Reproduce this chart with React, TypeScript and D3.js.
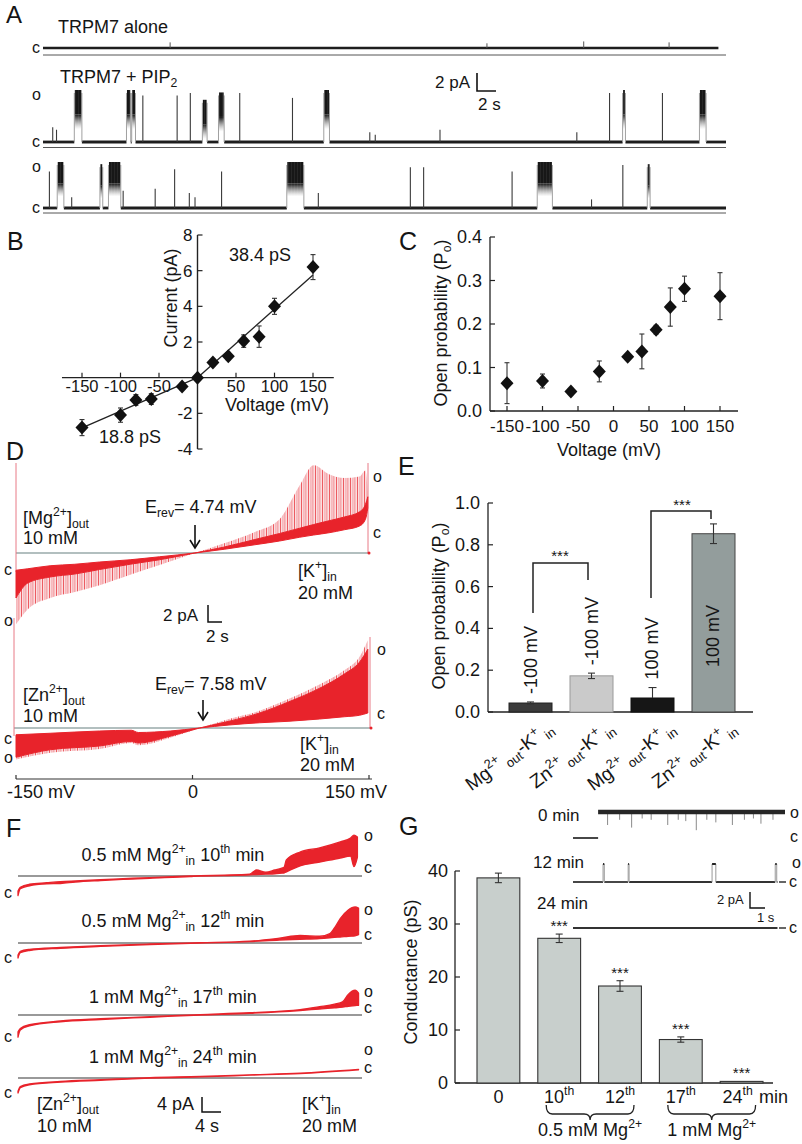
import React from 'react';
import * as d3 from 'd3';

const FONT = "'Liberation Sans', Arial, Helvetica, sans-serif";
const INK = '#151515';
const RED = '#e8232b';

// ================= DATA =================
// Panel A: single-channel bursts [start s, end s, fraction of unitary amplitude]
const aDuration = 72;
const aAloneEnd = 71.2;
const aAloneBlips: [number, number][] = [[13.4, 0.12], [46.8, 0.1], [57.0, 0.14], [66.0, 0.12]];
const aPipRow1: [number, number, number][] = [
  [1.0, 1.05, 0.3], [1.4, 1.45, 0.25], [3.3, 4.1, 1], [8.8, 9.25, 1], [9.35, 9.75, 1], [10.4, 10.65, 0.95],
  [14.1, 14.18, 0.95], [15.5, 15.56, 1], [16.8, 17.3, 0.8], [18.5, 19.1, 0.95], [20.7, 20.78, 1],
  [26.2, 26.4, 0.9], [29.6, 30.2, 1], [34.4, 34.5, 0.2], [35.0, 35.05, 0.15], [41.8, 41.9, 0.25],
  [56.2, 56.35, 0.2], [59.65, 59.8, 1], [61.1, 61.4, 1], [65.2, 65.4, 1], [69.2, 69.9, 1],
];
const aPipRow2: [number, number, number][] = [
  [0.65, 0.7, 0.85], [1.5, 2.2, 1], [3.0, 3.05, 0.25], [6.0, 6.3, 0.95], [6.9, 8.2, 1], [8.4, 8.5, 0.4],
  [11.8, 11.85, 0.45], [13.85, 13.9, 0.9], [15.4, 15.45, 0.35], [16.0, 16.05, 0.25], [18.8, 18.85, 0.85],
  [25.7, 27.5, 1], [29.0, 29.05, 0.35], [38.7, 38.75, 0.95], [40.0, 40.25, 0.95], [49.4, 49.5, 0.85],
  [52.1, 53.7, 1], [57.8, 57.85, 0.2], [61.1, 61.15, 1], [63.7, 64.0, 0.95],
];

// Panel B: I-V relation
const ivVoltage = [-150, -100, -80, -60, -20, 0, 20, 40, 60, 80, 100, 150];
const ivCurrent = [-2.8, -2.1, -1.25, -1.2, -0.5, 0, 0.85, 1.2, 2.05, 2.3, 4.0, 6.2];
const ivError = [0.45, 0.4, 0.3, 0.3, 0, 0, 0.1, 0.2, 0.35, 0.6, 0.45, 0.7];
const ivSlopeNeg = 18.8; // pS
const ivSlopePos = 38.4; // pS
const bXTicks = [-150, -100, -50, 50, 100, 150];
const bYTicks = [-4, -2, 2, 4, 6, 8];

// Panel C: open probability vs voltage
const poVoltage = [-150, -100, -60, -20, 20, 40, 60, 80, 100, 150];
const poValue = [0.064, 0.069, 0.045, 0.091, 0.125, 0.137, 0.187, 0.239, 0.281, 0.264];
const poError = [0.047, 0.016, 0.004, 0.024, 0.004, 0.04, 0.01, 0.044, 0.029, 0.054];
const cXTicks = [-150, -100, -50, 0, 50, 100, 150];
const cYTicks = [0, 0.1, 0.2, 0.3, 0.4];

// Panel D: ramp current envelopes [mV, closed pA, dense edge pA, peak pA]
const dMgTrace: [number, number, number, number][] = [
  [-150, -2.3, -6.0, -9.5], [-140, -2.1, -4.0, -7.5], [-121, -1.7, -3.2, -6.0], [-100, -1.5, -2.8, -5.2],
  [-79, -1.2, -2.2, -4.3], [-53, -0.9, -1.5, -2.9], [-28, -0.5, -0.9, -1.6], [2, 0, 0, 0],
  [27, 0.5, 0.8, 1.3], [53, 1.1, 1.8, 2.8], [74, 1.6, 2.6, 4.5], [91, 2.1, 3.3, 9.0],
  [103, 2.4, 3.8, 11.7], [116, 2.7, 4.3, 10.5], [129, 3.1, 4.8, 10.0], [142, 3.6, 5.5, 10.2],
  [147, 4.5, 6.5, 11.0], [149, 6.0, 7.5, 8.0],
];
const dZnTrace: [number, number, number, number][] = [
  [-150, -0.9, -3.9, -4.2], [-121, -0.7, -2.9, -3.3], [-79, -0.4, -2.4, -2.8], [-52, -0.3, -1.8, -2.0],
  [-46, -0.6, -2.0, -2.3], [-19, -0.4, -1.1, -1.3], [6, 0, 0, 0], [31, 0.4, 0.9, 1.2],
  [57, 0.7, 2.0, 2.3], [82, 0.9, 3.5, 3.9], [108, 1.2, 5.3, 5.8], [129, 1.5, 7.2, 7.7],
  [142, 1.7, 8.8, 9.5], [149, 2.0, 10.5, 11.7],
];
const dXTicks = [-150, 0, 150];

// Panel E: open probability bars
const eConditions = ['Mg^{2+}_{ out}-K^{+}_{ in}', 'Zn^{2+}_{ out}-K^{+}_{ in}', 'Mg^{2+}_{ out}-K^{+}_{ in}', 'Zn^{2+}_{ out}-K^{+}_{ in}'];
const eVoltLabels = ['-100 mV', '-100 mV', '100 mV', '100 mV'];
const ePo = [0.043, 0.173, 0.067, 0.853];
const eErr = [0.005, 0.013, 0.05, 0.047];
const eColors = ['#3b3b3b', '#cacaca', '#161616', '#939d9c'];
const eStrokes = ['#222', '#9a9a9a', '#111', '#444'];
const eYTicks = [0, 0.2, 0.4, 0.6, 0.8, 1.0];

// Panel F: ramp traces with internal Mg [mV, low pA, high pA]
const fTraces: { label: string; pts: [number, number, number][] }[] = [
  { label: '0.5 mM Mg^{2+}_{in} 10^{th} min', pts: [
    [-150, -5.2, -4.0], [-148, -3.4, -3.0], [-140, -2.6, -2.2], [-125, -2.1, -1.8], [-113, -2.0, -1.5],
    [-100, -1.6, -1.3], [-78, -1.2, -1.0], [-50, -0.8, -0.6], [-35, -0.6, -0.45], [0, -0.15, 0],
    [9, 0, 0.1], [30, 0.1, 0.25], [52, 0.3, 0.5], [58, 0.4, 1.6], [66, 0.5, 1.0], [74, 0.6, 1.6],
    [80, 0.75, 2.1], [82, 0.8, 2.3], [84, 1.1, 4.3], [96, 2.7, 6.4], [113, 3.7, 7.5], [131, 4.8, 9.1],
    [140, 5.3, 10.1], [143, 2.5, 10.9], [146, 5.0, 10.4]] },
  { label: '0.5 mM Mg^{2+}_{in} 12^{th} min', pts: [
    [-150, -4.0, -3.2], [-148, -2.6, -2.2], [-140, -2.0, -1.7], [-113, -1.4, -1.2], [-78, -0.9, -0.7],
    [-35, -0.4, -0.25], [9, 0, 0.1], [52, 0.35, 0.5], [78, 0.8, 1.3], [96, 1.0, 2.0], [113, 1.2, 1.8],
    [122, 1.4, 2.5], [126, 1.5, 4.0], [131, 1.6, 6.5], [138, 1.8, 8.8], [144, 1.9, 9.6], [147, 2.2, 9.3]] },
  { label: '1 mM Mg^{2+}_{in} 17^{th} min', pts: [
    [-150, -5.9, -4.5], [-148, -4.0, -3.6], [-140, -2.9, -2.6], [-113, -1.8, -1.6], [-78, -1.2, -1.0],
    [-35, -0.6, -0.45], [9, 0, 0.1], [52, 0.45, 0.6], [96, 1.2, 1.4], [113, 1.6, 2.2], [126, 1.9, 2.9],
    [133, 2.1, 3.5], [138, 2.3, 5.5], [144, 2.5, 6.6], [147, 2.6, 5.8]] },
  { label: '1 mM Mg^{2+}_{in} 24^{th} min', pts: [
    [-150, -4.0, -3.5], [-148, -2.6, -2.3], [-140, -1.8, -1.6], [-113, -1.1, -0.9], [-78, -0.6, -0.45],
    [-35, -0.05, 0.1], [9, 0.3, 0.4], [52, 0.75, 0.85], [96, 1.2, 1.3], [147, 2.2, 2.3]] },
];

// Panel G: conductance bars and inset records
const gCategories = ['0', '10^{th}', '12^{th}', '17^{th}', '24^{th}'];
const gConductance = [38.7, 27.3, 18.3, 8.2, 0.3];
const gErr = [0.9, 0.8, 1.0, 0.5, 0];
const gSignif = ['', '***', '***', '***', '***'];
const gYTicks = [0, 10, 20, 30, 40];
const gGroups = [{ label: '0.5 mM Mg^{2+}', from: 1, to: 2 }, { label: '1 mM Mg^{2+}', from: 3, to: 4 }];
const gInsetDuration = 14.1; // s
const g0OpenFrom = 1.67;
const g0Closures: [number, number][] = [[2.3, 0.5], [3.1, 0.3], [3.9, 0.6], [4.6, 0.25], [5.2, 0.3], [6.3, 0.5], [7.0, 0.3], [7.5, 0.35], [8.2, 0.7], [8.9, 0.3], [9.5, 0.4], [10.6, 0.5], [11.4, 0.3], [12.0, 0.25], [12.5, 0.45], [13.3, 0.3]];
const g12Openings: [number, number][] = [[2.0, 2.08], [3.67, 3.73], [9.25, 9.5], [13.45, 13.55]];

// ================= HELPERS =================
type Seg = { t: string; k?: 'sup' | 'sub' };
function parseRich(str: string): Seg[] {
  const out: Seg[] = [];
  const re = /(\^|_)\{([^}]*)\}/g;
  let last = 0;
  let m: RegExpExecArray | null;
  while ((m = re.exec(str))) {
    if (m.index > last) out.push({ t: str.slice(last, m.index) });
    out.push({ t: m[2], k: m[1] === '^' ? 'sup' : 'sub' });
    last = re.lastIndex;
  }
  if (last < str.length) out.push({ t: str.slice(last) });
  return out;
}

function RText({ x = 0, y = 0, str, size = 18, anchor = 'start', transform, fill = INK }: any) {
  const segs = parseRich(str);
  let off = 0;
  return (
    <text x={x} y={y} textAnchor={anchor} transform={transform} fill={fill} fontSize={size} fontFamily={FONT} style={{ whiteSpace: 'pre' }}>
      {segs.map((s, i) => {
        let target = 0;
        let fs = size;
        if (s.k === 'sup') { target = -size * 0.42; fs = size * 0.68; }
        else if (s.k === 'sub') { target = size * 0.2; fs = size * 0.68; }
        const dy = target - off;
        off = target;
        return <tspan key={i} dy={dy} fontSize={fs}>{s.t}</tspan>;
      })}
    </text>
  );
}

function T({ x, y, children, size = 18, anchor = 'start', transform, fill = INK }: any) {
  return <text x={x} y={y} fontSize={size} textAnchor={anchor} transform={transform} fill={fill} fontFamily={FONT}>{children}</text>;
}

const DIAMOND = 'M0,-7L6.5,0L0,7L-6.5,0Z';

function ErrBar({ x, y1, y2, cap = 6, color = '#333' }: any) {
  return (
    <g stroke={color} strokeWidth={1.1}>
      <line x1={x} x2={x} y1={y1} y2={y2} />
      <line x1={x - cap / 2} x2={x + cap / 2} y1={y1} y2={y1} />
      <line x1={x - cap / 2} x2={x + cap / 2} y1={y2} y2={y2} />
    </g>
  );
}

// ================= PANEL A =================
const xA = d3.scaleLinear().domain([0, aDuration]).range([43, 726]);

function ChannelRow({ bursts, yC, yO, tEnd }: { bursts: [number, number, number][]; yC: number; yO: number; tEnd: number }) {
  const wide = bursts.filter(b => xA(b[1]) - xA(b[0]) >= 2.5).sort((a, b) => a[0] - b[0]);
  const segs: [number, number][] = [];
  let t = 0;
  wide.forEach(b => { segs.push([t, b[0]]); t = b[1]; });
  segs.push([t, tEnd]);
  const span = yC - yO;
  return (
    <g>
      {segs.map(([s, e], i) => (
        <line key={'s' + i} x1={xA(s)} x2={xA(e)} y1={yC} y2={yC} stroke="#1e1e1e" strokeWidth={2.8} />
      ))}
      {bursts.map(([t0, t1, amp], i) => {
        const x0 = xA(t0), x1 = xA(t1);
        const top = yC - amp * span;
        if (x1 - x0 < 2.5) {
          const xm = (x0 + x1) / 2;
          return <line key={'b' + i} x1={xm} x2={xm} y1={yC} y2={top} stroke="#3a3a3a" strokeWidth={1.1} />;
        }
        const dark = span * 0.5;
        return (
          <g key={'b' + i}>
            <line x1={x0} x2={x0} y1={yC} y2={top} stroke="#a0a0a0" strokeWidth={1} />
            <line x1={x1} x2={x1} y1={yC} y2={top} stroke="#a0a0a0" strokeWidth={1} />
            <rect x={x0 + 0.5} y={top - 3} width={x1 - x0 - 1} height={dark} fill="#171717" />
            <rect x={x0 + 0.5} y={top - 3 + dark} width={x1 - x0 - 1} height={span * 0.3} fill="url(#burstGrad)" />
            <rect x={x0} y={top - 3} width={x1 - x0} height={dark + span * 0.3} fill="url(#flicker)" />
          </g>
        );
      })}
    </g>
  );
}

function PanelA() {
  return (
    <g>
      <T x={6} y={23} size={24}>A</T>
      <T x={58} y={33} size={18}>TRPM7 alone</T>
      <T x={32} y={53} size={16}>c</T>
      <line x1={xA(0)} x2={xA(aAloneEnd)} y1={48} y2={48} stroke="#1e1e1e" strokeWidth={2.6} />
      {aAloneBlips.map(([t, a], i) => (
        <line key={i} x1={xA(t)} x2={xA(t)} y1={48} y2={48 - a * 47} stroke="#555" strokeWidth={1} />
      ))}
      <line x1={43} x2={726} y1={55} y2={55} stroke="#555" strokeWidth={1} />

      <RText x={60} y={83} size={18} str="TRPM7 + PIP_{2}" />
      <T x={32} y={100} size={16}>o</T>
      <T x={32} y={147} size={16}>c</T>
      <ChannelRow bursts={aPipRow1} yC={142} yO={93} tEnd={aDuration} />
      <line x1={43} x2={726} y1={147.5} y2={147.5} stroke="#555" strokeWidth={1} />

      <T x={32} y={172} size={16}>o</T>
      <T x={32} y={213} size={16}>c</T>
      <ChannelRow bursts={aPipRow2} yC={208} yO={165} tEnd={aDuration} />
      <line x1={43} x2={726} y1={213} y2={213} stroke="#555" strokeWidth={1} />

      <T x={435} y={88} size={17}>2 pA</T>
      <path d="M477,73 V91 H496" fill="none" stroke="#111" strokeWidth={1.6} />
      <T x={478} y={110} size={17}>2 s</T>
    </g>
  );
}

// ================= PANEL B =================
function PanelB() {
  const x = d3.scaleLinear().domain([-150, 150]).range([82, 313]);
  const y = d3.scaleLinear().domain([-4, 8]).range([449, 235]);
  const x0 = x(0), y0 = y(0);
  const line = d3.line();
  const fitNeg = line([[x(-150), y((-150 * ivSlopeNeg) / 1000)], [x0, y0]]) as string;
  const fitPos = line([[x0, y0], [x(150), y((150 * ivSlopePos) / 1000)]]) as string;
  return (
    <g>
      <T x={7} y={250} size={25}>B</T>
      <line x1={x(-176)} x2={x(177)} y1={y0} y2={y0} stroke="#222" strokeWidth={1.4} />
      <line x1={x0} x2={x0} y1={y(-4)} y2={y(8)} stroke="#222" strokeWidth={1.4} />
      {bXTicks.map(v => (
        <g key={v}>
          <line x1={x(v)} x2={x(v)} y1={y0} y2={y0 - 5} stroke="#222" strokeWidth={1.2} />
          <T x={x(v)} y={y0 + 14} size={16.5} anchor="middle">{v}</T>
        </g>
      ))}
      {bYTicks.map(v => (
        <g key={v}>
          <line x1={x0} x2={x0 + 5} y1={y(v)} y2={y(v)} stroke="#222" strokeWidth={1.2} />
          <T x={x0 - 5} y={y(v) + 6} size={17} anchor="end">{v}</T>
        </g>
      ))}
      <path d={fitNeg} stroke="#222" strokeWidth={1.3} fill="none" />
      <path d={fitPos} stroke="#222" strokeWidth={1.3} fill="none" />
      {ivVoltage.map((v, i) => (
        <g key={v}>
          {ivError[i] > 0 && <ErrBar x={x(v)} y1={y(ivCurrent[i] + ivError[i])} y2={y(ivCurrent[i] - ivError[i])} cap={5} />}
          <path d={DIAMOND} transform={`translate(${x(v)},${y(ivCurrent[i])})`} fill="#111" />
        </g>
      ))}
      <T x={0} y={0} size={18} anchor="middle" transform={`translate(177,298) rotate(-90)`}>Current (pA)</T>
      <T x={277} y={411} size={18} anchor="middle">Voltage (mV)</T>
      <T x={260} y={261} size={18} anchor="middle">{`${ivSlopePos} pS`}</T>
      <T x={130} y={443} size={18} anchor="middle">{`${ivSlopeNeg} pS`}</T>
    </g>
  );
}

// ================= PANEL C =================
function PanelC() {
  const x = d3.scaleLinear().domain([-150, 150]).range([507, 720]);
  const y = d3.scaleLinear().domain([0, 0.4]).range([411, 237]);
  return (
    <g>
      <T x={399} y={250} size={25}>C</T>
      <line x1={490} x2={738} y1={411} y2={411} stroke="#222" strokeWidth={1.3} />
      <line x1={490} x2={490} y1={411} y2={237} stroke="#222" strokeWidth={1.3} />
      {cXTicks.map(v => (
        <g key={v}>
          <line x1={x(v)} x2={x(v)} y1={411} y2={406} stroke="#222" strokeWidth={1.2} />
          <T x={x(v)} y={432} size={17} anchor="middle">{v}</T>
        </g>
      ))}
      {cYTicks.map(v => (
        <g key={v}>
          <line x1={490} x2={495} y1={y(v)} y2={y(v)} stroke="#222" strokeWidth={1.2} />
          <T x={482} y={y(v) + 6} size={18} anchor="end">{d3.format('.1f')(v)}</T>
        </g>
      ))}
      {poVoltage.map((v, i) => (
        <g key={v}>
          {poError[i] > 0.006 && <ErrBar x={x(v)} y1={y(poValue[i] + poError[i])} y2={y(poValue[i] - poError[i])} cap={5} />}
          <path d={DIAMOND} transform={`translate(${x(v)},${y(poValue[i])})`} fill="#111" />
        </g>
      ))}
      <RText x={0} y={0} size={18} anchor="middle" transform="translate(447,323) rotate(-90)" str="Open probability (P_{o})" />
      <T x={609} y={456} size={18} anchor="middle">Voltage (mV)</T>
    </g>
  );
}

// ================= PANEL D =================
const xD = d3.scaleLinear().domain([-150, 150]).range([16, 369]);
const kD = 7.5; // px per pA

function RampTrace({ data, base }: { data: [number, number, number, number][]; base: number }) {
  const core = d3.area<[number, number, number, number]>()
    .x(d => xD(d[0])).y0(d => base - d[1] * kD).y1(d => base - d[2] * kD).curve(d3.curveMonotoneX)(data) as string;
  const spikes = d3.area<[number, number, number, number]>()
    .x(d => xD(d[0])).y0(d => base - d[2] * kD).y1(d => base - d[3] * kD).curve(d3.curveMonotoneX)(data) as string;
  return (
    <g>
      <path d={spikes} fill="#f4a0a6" opacity={0.35} />
      <path d={spikes} fill="url(#spikeHatch)" />
      <path d={core} fill={RED} stroke={RED} strokeWidth={1} />
    </g>
  );
}

function Arrow({ x, y1, y2 }: any) {
  return (
    <g stroke="#111" strokeWidth={1.6} fill="none">
      <line x1={x} x2={x} y1={y1} y2={y2} />
      <path d={`M${x - 5},${y2 - 8} L${x},${y2} L${x + 5},${y2 - 8}`} />
    </g>
  );
}

function PanelD() {
  const b1 = 553, b2 = 728;
  return (
    <g>
      <T x={6} y={460} size={25}>D</T>
      {/* top: Mg */}
      <line x1={16} x2={370} y1={b1} y2={b1} stroke="#9aa" strokeWidth={1.3} />
      <line x1={16} x2={16} y1={463} y2={572} stroke="#e87a86" strokeWidth={1} />
      <line x1={368} x2={368} y1={463} y2={b1} stroke="#e87a86" strokeWidth={1} />
      <RampTrace data={dMgTrace} base={b1} />
      <circle cx={369} cy={b1} r={1.5} fill={RED} />
      <RText x={23} y={524} size={18} str="[Mg^{2+}]_{out}" />
      <T x={23} y={544} size={18}>10 mM</T>
      <RText x={145} y={513} size={18} str="E_{rev}= 4.74 mV" />
      <Arrow x={195} y1={525} y2={548} />
      <RText x={298} y={577} size={18} str="[K^{+}]_{in}" />
      <T x={298} y={599} size={18}>20 mM</T>
      <T x={4} y={575} size={16}>c</T>
      <T x={4} y={626} size={16}>o</T>
      <T x={373} y={482} size={16}>o</T>
      <T x={373} y={538} size={16}>c</T>

      <T x={163} y={621} size={17}>2 pA</T>
      <path d="M208,605 V622 H222" fill="none" stroke="#111" strokeWidth={1.5} />
      <T x={206} y={642} size={17}>2 s</T>

      {/* bottom: Zn */}
      <line x1={14} x2={372} y1={b2} y2={b2} stroke="#9aa" strokeWidth={1.3} />
      <line x1={14} x2={14} y1={618} y2={736} stroke="#e87a86" strokeWidth={1} />
      <line x1={370} x2={370} y1={637} y2={b2} stroke="#e87a86" strokeWidth={1} />
      <RampTrace data={dZnTrace} base={b2} />
      <circle cx={371} cy={b2} r={1.5} fill={RED} />
      <RText x={23} y={701} size={18} str="[Zn^{2+}]_{out}" />
      <T x={23} y={722} size={18}>10 mM</T>
      <RText x={155} y={690} size={18} str="E_{rev}= 7.58 mV" />
      <Arrow x={203} y1={700} y2={720} />
      <RText x={300} y={750} size={18} str="[K^{+}]_{in}" />
      <T x={300} y={771} size={18}>20 mM</T>
      <T x={4} y={744} size={16}>c</T>
      <T x={4} y={763} size={16}>o</T>
      <T x={377} y={655} size={16}>o</T>
      <T x={377} y={719} size={16}>c</T>

      {/* voltage axis */}
      <line x1={xD(-150)} x2={xD(150) + 3} y1={779} y2={779} stroke="#333" strokeWidth={1.2} />
      {dXTicks.map(v => (
        <line key={v} x1={xD(v)} x2={xD(v)} y1={779} y2={775} stroke="#333" strokeWidth={1.2} />
      ))}
      <T x={7} y={798} size={18}>-150 mV</T>
      <T x={193} y={798} size={18} anchor="middle">0</T>
      <T x={387} y={798} size={18} anchor="end">150 mV</T>
    </g>
  );
}

// ================= PANEL E =================
function PanelE() {
  const x = d3.scaleBand<number>().domain([0, 1, 2, 3]).range([509, 735]).paddingInner(0.295).paddingOuter(0);
  const y = d3.scaleLinear().domain([0, 1]).range([712, 503]);
  const bw = x.bandwidth();
  return (
    <g>
      <T x={398} y={475} size={25}>E</T>
      <line x1={488} x2={753} y1={712} y2={712} stroke="#222" strokeWidth={1.3} />
      <line x1={488} x2={488} y1={712} y2={503} stroke="#222" strokeWidth={1.3} />
      {eYTicks.map(v => (
        <g key={v}>
          <line x1={488} x2={493} y1={y(v)} y2={y(v)} stroke="#222" strokeWidth={1.2} />
          <T x={480} y={y(v) + 6} size={18} anchor="end">{d3.format('.1f')(v)}</T>
        </g>
      ))}
      {ePo.map((v, i) => {
        const bx = x(i) as number;
        const cx = bx + bw / 2;
        const errTop = y(v + eErr[i]);
        const inside = v > 0.5;
        const ly = inside ? y(0) - 45 : errTop - 8;
        return (
          <g key={i}>
            <rect x={bx} y={y(v)} width={bw} height={y(0) - y(v)} fill={eColors[i]} stroke={eStrokes[i]} strokeWidth={1} />
            {i === 2
              ? <g stroke="#333" strokeWidth={1.1}><line x1={cx} x2={cx} y1={y(v)} y2={errTop} /><line x1={cx - 4} x2={cx + 4} y1={errTop} y2={errTop} /></g>
              : <ErrBar x={cx} y1={errTop} y2={y(v - eErr[i])} cap={7} />}
            <T x={0} y={0} size={18} transform={`translate(${cx + 6},${ly}) rotate(-90)`}>{eVoltLabels[i]}</T>
            <RText x={0} y={0} size={19} anchor="end" transform={`translate(${cx + 24},${731}) rotate(-36)`} str={eConditions[i]} />
          </g>
        );
      })}
      <path d="M533,613 V563 H588 V580" fill="none" stroke="#222" strokeWidth={1.5} />
      <T x={560} y={561} size={15} anchor="middle">***</T>
      <path d="M651,598 V511 H711 V519" fill="none" stroke="#222" strokeWidth={1.5} />
      <T x={682} y={510} size={15} anchor="middle">***</T>
      <RText x={0} y={0} size={18} anchor="middle" transform="translate(445,606) rotate(-90)" str="Open probability (P_{o})" />
    </g>
  );
}

// ================= PANEL F =================
const xF = d3.scaleLinear().domain([-150, 150]).range([18, 362]);
const kF = 3.75;
const fBases = [876, 943, 1015, 1078];
const fLabelY = [861, 927, 1003, 1063];
const fOY = [841, 915, 997, 1055];
const fCY = [873, 940, 1013, 1073];
const fLeftCY = [898, 963, 1042, 1098];

function PanelF() {
  return (
    <g>
      <T x={6} y={837} size={25}>F</T>
      {fTraces.map((tr, i) => {
        const base = fBases[i];
        const area = d3.area<[number, number, number]>()
          .x(d => xF(d[0])).y0(d => base - d[1] * kF).y1(d => base - d[2] * kF).curve(d3.curveMonotoneX)(tr.pts) as string;
        return (
          <g key={i}>
            <line x1={18} x2={362} y1={base} y2={base} stroke="#777" strokeWidth={1.5} />
            <path d={area} fill={RED} stroke={RED} strokeWidth={1.3} strokeLinejoin="round" />
            <RText x={173} y={fLabelY[i]} size={18} anchor="middle" str={tr.label} />
            <T x={364} y={fOY[i]} size={16}>o</T>
            <T x={364} y={fCY[i]} size={16}>c</T>
            <T x={4} y={fLeftCY[i]} size={16}>c</T>
          </g>
        );
      })}
      <RText x={37} y={1110} size={18} str="[Zn^{2+}]_{out}" />
      <T x={37} y={1132} size={18}>10 mM</T>
      <T x={157} y={1110} size={18}>4 pA</T>
      <path d="M202,1097 V1112 H221" fill="none" stroke="#111" strokeWidth={1.5} />
      <T x={195} y={1132} size={18}>4 s</T>
      <RText x={302} y={1110} size={18} str="[K^{+}]_{in}" />
      <T x={302} y={1132} size={18}>20 mM</T>
    </g>
  );
}

// ================= PANEL G =================
const xGi = d3.scaleLinear().domain([0, gInsetDuration]).range([573, 785]);

function PanelG() {
  const x = d3.scaleBand<number>().domain([0, 1, 2, 3, 4]).range([477, 763]).paddingInner(0.296).paddingOuter(0);
  const y = d3.scaleLinear().domain([0, 40]).range([1083, 871]);
  const bw = x.bandwidth();
  const cx = (i: number) => (x(i) as number) + bw / 2;
  const segs12: [number, number][] = [];
  let t = 0;
  g12Openings.forEach(([a, b]) => { segs12.push([t, a]); t = b; });
  segs12.push([t, 13.6]);
  return (
    <g>
      <T x={399} y={835} size={25}>G</T>
      {/* insets */}
      <T x={538} y={821} size={17}>0 min</T>
      <line x1={xGi(0)} x2={xGi(g0OpenFrom)} y1={838} y2={838} stroke="#333" strokeWidth={1.8} />
      {g0Closures.map(([tt, d], i) => (
        <line key={i} x1={xGi(tt)} x2={xGi(tt)} y1={812} y2={812 + d * 26} stroke="#8a8a8a" strokeWidth={1} />
      ))}
      <line x1={xGi(g0OpenFrom)} x2={xGi(gInsetDuration)} y1={812} y2={812} stroke="#262626" strokeWidth={4.5} />
      <T x={790} y={818} size={16}>o</T>
      <T x={790} y={842} size={16}>c</T>

      <T x={533} y={868} size={17}>12 min</T>
      {segs12.map(([a, b], i) => (
        <line key={i} x1={xGi(a)} x2={xGi(b)} y1={882} y2={882} stroke="#333" strokeWidth={1.8} />
      ))}
      {g12Openings.map(([a, b], i) => (
        <g key={i}>
          <line x1={xGi(a)} x2={xGi(a)} y1={882} y2={864} stroke="#999" strokeWidth={1} />
          <line x1={xGi(b)} x2={xGi(b)} y1={882} y2={864} stroke="#999" strokeWidth={1} />
          <line x1={xGi(a)} x2={xGi(b)} y1={864} y2={864} stroke="#222" strokeWidth={2} />
        </g>
      ))}
      <line x1={779} x2={786} y1={882} y2={882} stroke="#333" strokeWidth={1.5} />
      <T x={792} y={868} size={16}>o</T>
      <T x={789} y={887} size={16}>c</T>

      <T x={537} y={909} size={17}>24 min</T>
      <line x1={xGi(0)} x2={xGi(13.6)} y1={928} y2={928} stroke="#333" strokeWidth={1.8} />
      <line x1={779} x2={786} y1={928} y2={928} stroke="#333" strokeWidth={1.5} />
      <T x={789} y={933} size={16}>c</T>

      <T x={717} y={904} size={13}>2 pA</T>
      <path d="M750,892 V908 H765" fill="none" stroke="#111" strokeWidth={1.4} />
      <T x={757} y={922} size={13}>1 s</T>

      {/* axes */}
      <line x1={455} x2={773} y1={y(0)} y2={y(0)} stroke="#222" strokeWidth={1.3} />
      <line x1={455} x2={455} y1={y(0)} y2={y(40)} stroke="#222" strokeWidth={1.3} />
      {gYTicks.map(v => (
        <g key={v}>
          <line x1={455} x2={460} y1={y(v)} y2={y(v)} stroke="#222" strokeWidth={1.2} />
          <T x={448} y={y(v) + 6} size={18} anchor="end">{v}</T>
        </g>
      ))}
      {gConductance.map((v, i) => {
        const bx = x(i) as number;
        const errTop = y(v + gErr[i]);
        return (
          <g key={i}>
            <rect x={bx} y={y(v)} width={bw} height={y(0) - y(v)} fill="#c8cfcc" stroke="#333" strokeWidth={1.1} />
            {gErr[i] > 0 && <ErrBar x={cx(i)} y1={errTop} y2={y(v - gErr[i])} cap={7} />}
            {gSignif[i] && <T x={cx(i)} y={errTop - 3} size={15} anchor="middle">{gSignif[i]}</T>}
            <RText x={cx(i) - (i === 4 ? 4 : 0)} y={1103} size={18} anchor="middle" str={gCategories[i]} />
          </g>
        );
      })}
      <T x={759} y={1103} size={18}>min</T>
      {gGroups.map((g, i) => {
        const a = cx(g.from) - 13, b = cx(g.to) + 14, m = (a + b) / 2;
        const d = `M${a},1105 Q${a},1114 ${a + 6},1114 L${m - 6},1114 Q${m},1114 ${m},1120 Q${m},1114 ${m + 6},1114 L${b - 6},1114 Q${b},1114 ${b},1105`;
        return (
          <g key={i}>
            <path d={d} fill="none" stroke="#222" strokeWidth={1.3} />
            <RText x={m} y={1136} size={18} anchor="middle" str={g.label} />
          </g>
        );
      })}
      <T x={0} y={0} size={18} anchor="middle" transform="translate(417,972) rotate(-90)">Conductance (pS)</T>
    </g>
  );
}

export default function App() {
  return (
    <svg width={802} height={1144} viewBox="0 0 802 1144" style={{ position: 'absolute', left: 0, top: 0, background: '#fff' }} fontFamily={FONT}>
      <defs>
        <linearGradient id="burstGrad" x1="0" y1="0" x2="0" y2="1">
          <stop offset="0" stopColor="#171717" stopOpacity={1} />
          <stop offset="1" stopColor="#888" stopOpacity={0} />
        </linearGradient>
        <pattern id="flicker" patternUnits="userSpaceOnUse" width="3" height="40">
          <rect x="0" y="0" width="0.8" height="40" fill="#fff" opacity={0.08} />
        </pattern>
        <pattern id="spikeHatch" patternUnits="userSpaceOnUse" width="7" height="10">
          <rect x="0" y="0" width="0.9" height="10" fill="#e8323a" opacity={0.85} />
          <rect x="2.6" y="0" width="0.7" height="10" fill="#ec5a62" opacity={0.7} />
          <rect x="4.5" y="0" width="0.8" height="10" fill="#e8323a" opacity={0.6} />
        </pattern>
      </defs>
      <rect x={0} y={0} width={802} height={1144} fill="#fff" />
      <PanelA />
      <PanelB />
      <PanelC />
      <PanelD />
      <PanelE />
      <PanelF />
      <PanelG />
    </svg>
  );
}
